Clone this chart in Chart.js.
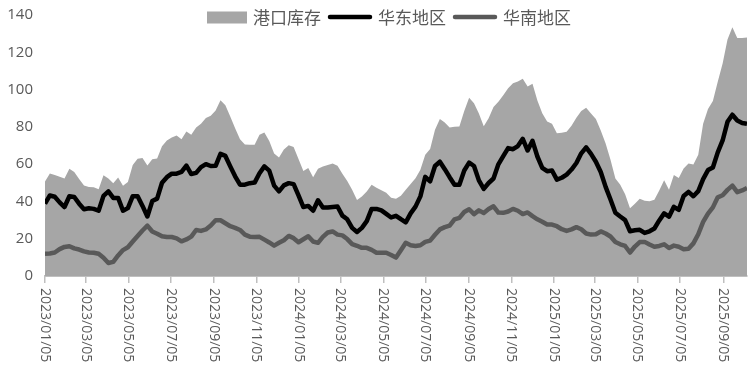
<!DOCTYPE html>
<html><head><meta charset="utf-8">
<script src="https://cdn.jsdelivr.net/npm/chart.js@4"></script>
<style>html,body{margin:0;padding:0;background:#fff}#wrap{width:752px;height:380px}</style>
</head><body><div id="wrap"><canvas id="c" width="752" height="380"></canvas></div>
<script>
const startDate = '2023/01/05';
const tickLabels = ['2023/01/05','2023/03/05','2023/05/05','2023/07/05','2023/09/05','2023/11/05',
  '2024/01/05','2024/03/05','2024/05/05','2024/07/05','2024/09/05','2024/11/05',
  '2025/01/05','2025/03/05','2025/05/05','2025/07/05','2025/09/05'];
const seriesNames = ['港口库存','华东地区','华南地区'];

const portStock = [
  50.7,55,54.2,53.2,52.3,57.5,55.8,52,48.5,47.8,
  47.6,46.5,54,52.3,49.7,52.8,48.4,50.4,59.5,62.9,
  63.3,59.3,62.6,63,69.6,72.7,74.3,75.3,73.3,77.5,
  75.8,79.7,81.7,84.8,85.9,88.8,94.3,91.6,85.5,79.3,
  73.4,70.6,70.4,70.4,75.8,77,72.4,65.7,63.5,67.9,
  70.1,69.2,62.7,56.3,57.9,53,57.5,58.7,59.6,60.4,
  59.2,54.8,51,46.2,40.7,42.6,45.3,49,47.4,46,
  44.7,42,41.5,43,46.3,49.4,52.5,57,65.1,68.1,
  78.4,84.2,82.3,79.7,80,80.2,88.5,95.6,92.7,87.2,
  80.3,84.6,90.6,93.5,97,100.7,103.4,104.3,105.8,101.7,
  103.1,94.2,87.3,82.9,81.6,76.6,76.8,77.4,80.6,84.9,
  88.5,90.2,87.1,84.2,78.1,71.1,62.4,52.3,48.9,43.8,
  36.4,38.7,41.5,40.4,40.1,40.9,45.9,51.4,46.2,54.2,
  52.6,57.7,60.4,59.8,65.1,81.6,89.6,93.9,104.2,114,
  126.9,133.4,127.6,127.7,127.9
];
const eastChina = [
  38.8,43.2,42.5,39.5,37,42.8,42.4,38.8,35.8,36.3,
  36,35,43,45.4,41.9,41.9,35,36.4,42.8,42.8,
  37.6,31.9,40.2,41.5,50,53,54.9,54.9,55.8,59.2,
  54.7,55.3,58.4,60,59,59.1,65.5,64.4,58.8,53.5,
  49,49,49.8,50.1,55.1,58.8,56.5,48.5,45.4,48.6,
  49.8,49.3,43.3,37,37.6,35,40.6,36.7,36.7,37,
  37.3,32.4,30.4,25.8,23.6,25.8,29.4,36,36,35.2,
  33.3,31.4,32.3,30.5,28.8,33.6,37.2,42.7,53.2,50.8,
  59,61.3,57.3,53,49,49,56.6,60.8,59,51.3,
  46.7,49.9,52.3,59.9,64.3,68.6,68,69.7,73.6,67.3,
  72.5,64.1,58,56.2,56.6,51.7,52.7,54.4,57.1,60.6,
  65.8,69,65.5,61.3,55.8,47.8,41,33.9,31.9,30,
  24,24.5,24.8,23.1,24,25.5,29.8,33.6,31.8,37.1,
  35.5,42.9,45.1,42.8,45.5,52,56.8,58.2,66.3,72.7,
  82.7,86.5,83.4,82.1,81.6
];
const southChina = [
  12,12.1,12.6,14.4,15.6,16,14.8,14.2,13.2,12.6,
  12.5,11.9,9.8,7,7.6,11,13.9,15.4,18.5,21.5,
  24.4,27,23.9,22.7,21.3,20.9,20.9,20.2,18.6,19.6,
  21.1,24.7,24.2,25,27.1,29.9,29.9,28.3,26.7,25.8,
  24.7,22.2,21.1,20.9,21,19.5,18,16.3,17.8,19.2,
  21.5,20.3,18.1,19.7,21.3,18.5,17.8,21,23.3,23.9,
  22.2,21.8,19.8,17.1,16.2,15.1,15.1,14,12.5,12.5,
  12.5,11.3,9.9,13.8,17.8,16.5,16.1,16.5,18.3,19,
  22.1,25,26.2,27,30.4,31.2,34.3,35.8,33.2,35.2,
  33.8,35.9,37.4,34,33.9,34.6,36,35,33.2,34.1,
  32.1,30.4,29.1,27.6,27.6,26.7,25.1,24.2,25,26.2,
  25.1,22.8,22.2,22.4,23.9,22.8,21.2,18.2,17,16.1,
  12.6,15.8,18.2,18.3,16.9,15.7,16.1,17,15,16.3,
  15.7,14.4,14.6,17.5,22.4,29,33.5,36.8,42.2,43.3,
  46.2,48.5,45,45.9,47.2
];

function dayOffset(label) {
  const p = label.split('/').map(Number), s = startDate.split('/').map(Number);
  return Math.round((Date.UTC(p[0], p[1]-1, p[2]) - Date.UTC(s[0], s[1]-1, s[2])) / 86400000);
}
// weekly observations (every Thursday from the start date)
const weekDays = portStock.map((_, i) => i * 7);
const toXY = arr => arr.map((v, i) => ({x: weekDays[i], y: v}));

const colors = ['#a6a6a6', '#000000', '#595959'];
const textColor = '#595959';
const latinFont = '"Open Sans", "Noto Sans", sans-serif';
const cjkFont = '"Noto Sans CJK SC", sans-serif';

const xLabelPlugin = {
  id: 'xLabels',
  afterDraw(chart) {
    const xs = chart.scales.x, ctx = chart.ctx;
    ctx.save();
    ctx.fillStyle = textColor;
    ctx.font = '14px ' + latinFont;
    ctx.textAlign = 'left';
    ctx.textBaseline = 'middle';
    tickLabels.forEach(l => {
      const px = xs.getPixelForValue(dayOffset(l));
      ctx.save();
      ctx.translate(px - 0.5, xs.top + 12);
      ctx.rotate(Math.PI / 2);
      ctx.fillText(l, 0, 0);
      ctx.restore();
    });
    ctx.restore();
  }
};

const legendPlugin = {
  id: 'customLegend',
  afterDraw(chart) {
    const ctx = chart.ctx;
    ctx.save();
    ctx.font = '17px ' + cjkFont;
    ctx.textBaseline = 'middle';
    ctx.textAlign = 'left';
    let x = 207;
    const cy = 17.5;
    chart.data.datasets.forEach((ds, i) => {
      if (i === 0) {
        ctx.fillStyle = colors[0];
        ctx.fillRect(x, cy - 6, 40, 12);
        x += 40;
      } else {
        ctx.strokeStyle = colors[i];
        ctx.lineWidth = 4.5;
        ctx.lineCap = 'round';
        ctx.beginPath();
        ctx.moveTo(x + 2, cy - 0.5);
        ctx.lineTo(x + 42, cy - 0.5);
        ctx.stroke();
        x += 44;
      }
      x += 6;
      ctx.fillStyle = textColor;
      ctx.fillText(ds.label, x, cy);
      x += ctx.measureText(ds.label).width + 7;
    });
    ctx.restore();
  }
};

new Chart(document.getElementById('c'), {
  type: 'line',
  data: {
    datasets: [
      {label: seriesNames[0], data: toXY(portStock), fill: 'origin', backgroundColor: colors[0],
       borderWidth: 0, borderColor: colors[0], pointRadius: 0, tension: 0, order: 10},
      {label: seriesNames[1], data: toXY(eastChina), fill: false, borderColor: colors[1],
       borderWidth: 4.5, pointRadius: 0, tension: 0, borderJoinStyle: 'round', order: 1},
      {label: seriesNames[2], data: toXY(southChina), fill: false, borderColor: colors[2],
       borderWidth: 4.5, pointRadius: 0, tension: 0, borderJoinStyle: 'round', order: 2}
    ]
  },
  options: {
    responsive: false,
    animation: false,
    devicePixelRatio: 1,
    layout: {padding: {top: 15, right: 5, left: 0, bottom: 0}},
    plugins: {legend: {display: false}, tooltip: {enabled: false}},
    scales: {
      x: {
        type: 'linear',
        min: 0,
        max: weekDays[weekDays.length - 1],
        afterBuildTicks(scale) { scale.ticks = tickLabels.map(l => ({value: dayOffset(l)})); },
        afterFit(scale) { scale.height = 104; scale.paddingLeft = 0; scale.paddingRight = 0; },
        ticks: {display: false},
        grid: {drawOnChartArea: false, drawTicks: true, tickLength: 7, color: '#bfbfbf', lineWidth: 1.5},
        border: {display: true, color: '#bfbfbf', width: 2}
      },
      y: {
        min: 0, max: 140,
        afterFit(scale) { scale.width = 45; scale.paddingTop = 0; scale.paddingBottom = 0; },
        ticks: {stepSize: 20, color: textColor, padding: 12, font: {family: latinFont, size: 15}},
        grid: {display: false, drawTicks: false},
        border: {display: false}
      }
    }
  },
  plugins: [xLabelPlugin, legendPlugin]
});
</script></body></html>
